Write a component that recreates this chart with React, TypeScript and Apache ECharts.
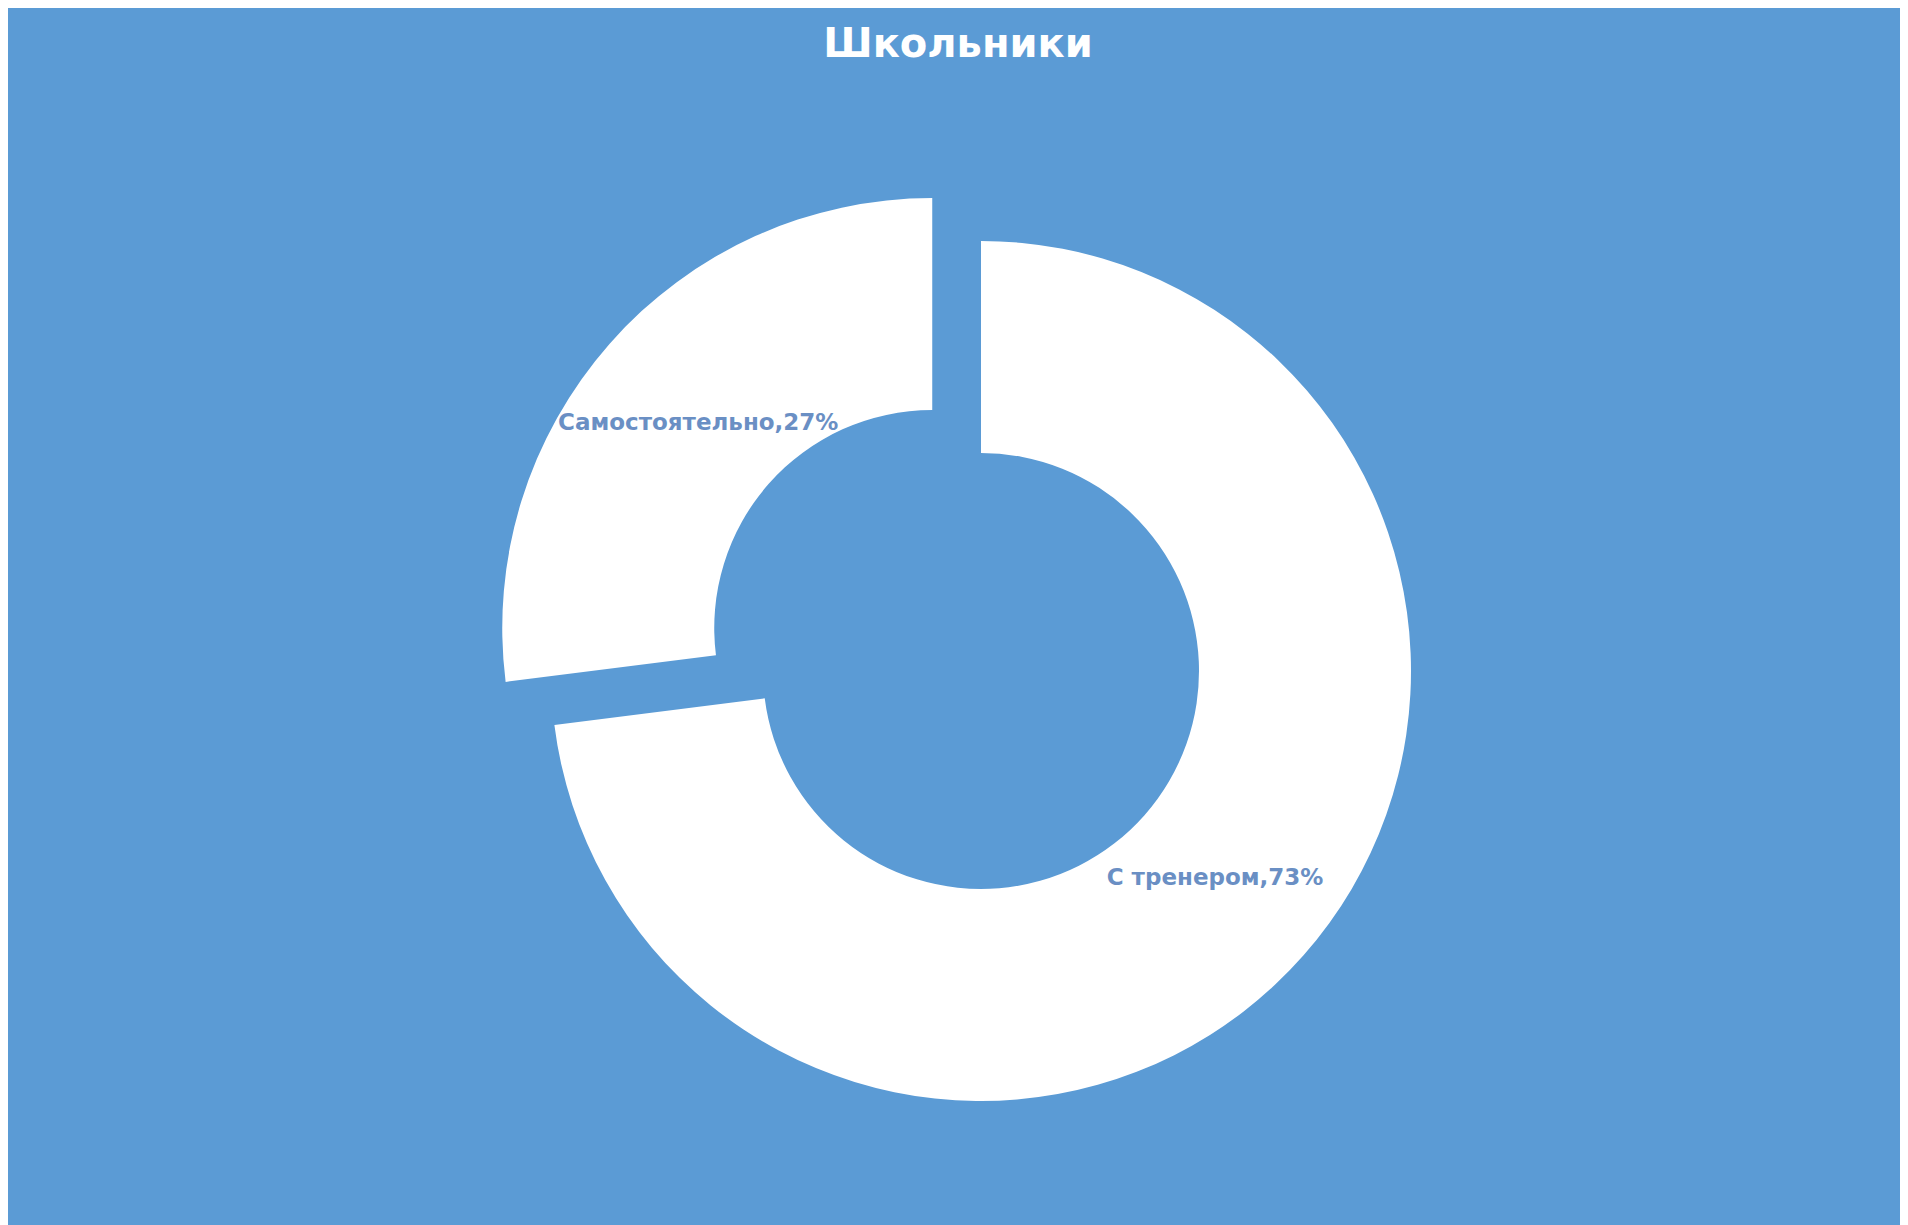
import React, { useEffect, useRef } from "react";
import * as echarts from "echarts";

const titleText = "Школьники";
const categories = ["С тренером", "Самостоятельно"];
const values = [73, 27];
const exploded = [false, true];

const LABEL_INWARD = 15; // px pulled toward the centre

export default function App() {
  const ref = useRef<HTMLDivElement>(null);
  useEffect(() => {
    if (!ref.current) return;
    const chart = echarts.init(ref.current, undefined, { renderer: "svg" });
    const total = values.reduce((a, b) => a + b, 0);
    let acc = 0;
    const data = categories.map((name, i) => {
      const mid = ((acc + values[i] / 2) / total) * Math.PI * 2; // clockwise from top
      acc += values[i];
      const dx = -Math.sin(mid) * LABEL_INWARD;
      const dy = Math.cos(mid) * LABEL_INWARD;
      return {
        name,
        value: values[i],
        selected: exploded[i],
        label: { offset: [dx, dy] },
        select: { label: { offset: [dx, dy] } },
      };
    });
    chart.setOption({
      animation: false,
      backgroundColor: "#5B9BD5",
      title: {
        text: titleText,
        left: "center",
        top: 10,
        textStyle: {
          color: "#ffffff",
          fontFamily: "DejaVu Sans",
          fontWeight: "bold",
          fontSize: 40,
        },
      },
      series: [
        {
          type: "pie",
          center: [973, 663],
          radius: [218, 430],
          startAngle: 90,
          clockwise: true,
          selectedMode: "multiple",
          selectedOffset: 65,
          avoidLabelOverlap: false,
          itemStyle: { color: "#ffffff", borderWidth: 0 },
          select: { itemStyle: { color: "#ffffff" } },
          emphasis: { disabled: true },
          label: {
            show: true,
            position: "inside",
            formatter: "{b},{c}%",
            color: "#6A8FC4",
            fontFamily: "DejaVu Sans",
            fontWeight: "bold",
            fontSize: 23,
          },
          labelLine: { show: false },
          data,
        },
      ],
    });
    return () => chart.dispose();
  }, []);
  return <div ref={ref} style={{ width: 1900, height: 1217 }} />;
}
